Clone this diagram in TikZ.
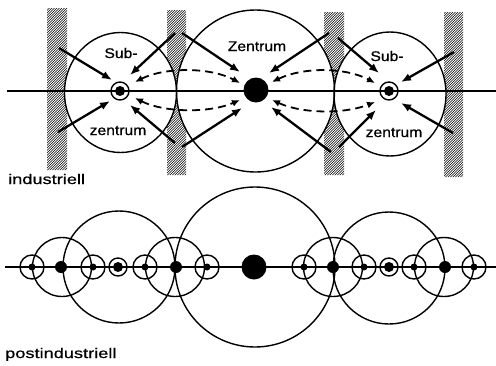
\documentclass[tikz,border=0pt]{standalone}
\usepackage{fontspec}
\setmainfont{Liberation Sans}
\newfontfamily\labA[FakeStretch=1.12,FakeBold=0.6]{Liberation Sans}
\newfontfamily\labB[FakeStretch=1.3,FakeBold=0.6]{Liberation Sans}
\usetikzlibrary{arrows.meta}
\tikzset{
  circ/.style={line width=1.4pt},
  axis/.style={line width=1.6pt},
  arr/.style={line width=2.3pt,-{Latex[length=10pt,width=8pt]}},
  darr/.style={line width=1.8pt,dash pattern=on 8pt off 5pt,{Latex[length=8pt,width=7pt]}-{Latex[length=8pt,width=7pt]}},
  hatchln/.style={line width=0.6pt},
  bigdot/.style={circle,fill=black,inner sep=0pt,minimum size=25pt},
  middot/.style={circle,fill=black,inner sep=0pt,minimum size=12pt},
  smdot/.style={circle,fill=black,inner sep=0pt,minimum size=7pt},
  ringc/.style={circle,draw,line width=1.4pt,inner sep=0pt,minimum size=18pt},
  ringdot/.style={circle,fill=black,inner sep=0pt,minimum size=10pt},
  smring/.style={circle,draw,line width=1.4pt,inner sep=0pt,minimum size=24pt},
  lbl/.style={anchor=base,inner sep=0pt,font=\labA\fontsize{14pt}{16pt}\selectfont},
  lblw/.style={anchor=base west,inner sep=0pt,font=\labB\fontsize{14pt}{16pt}\selectfont}
}
\begin{document}
\begin{tikzpicture}[x=1pt,y=-1pt]
\useasboundingbox (0,0) rectangle (496,365);
% ---------- top: hatched bars ----------
\begin{scope}
  \clip (47,8) rectangle (67,170) (167,10) rectangle (186,175)
        (324,12) rectangle (344,175) (444,12) rectangle (463,177);
  \foreach \k in {-200,-197.5,...,500} \draw[hatchln] (\k,180) -- (\k+180,0);
\end{scope}
% white interiors of the circles
\fill[white] (120.5,92.5) ellipse [x radius=56, y radius=60];
\fill[white] (255.5,91) ellipse [x radius=79, y radius=81];
\fill[white] (390,94) ellipse [x radius=56, y radius=62];
\draw[circ] (120.5,92.5) ellipse [x radius=56, y radius=60];
\draw[circ] (255.5,91) ellipse [x radius=79, y radius=81];
\draw[circ] (390,94) ellipse [x radius=56, y radius=62];
% axis
\coordinate (tl) at (7,91);
\coordinate (tr) at (496,91);
\draw[axis] (tl) -- (tr);
% centres
\node[bigdot] (Z) at (256,90) {};
\node[ringc] (S1) at (120,91) {};
\node[ringdot] (S1d) at (120,91) {};
\node[ringc] (S2) at (389,91) {};
\node[ringdot] (S2d) at (389,91) {};
% arrow end points
\coordinate (a1s) at (59,48);   \coordinate (a1e) at (112,80);
\coordinate (a2s) at (58,132);  \coordinate (a2e) at (110,101);
\coordinate (a3s) at (175,33);  \coordinate (a3e) at (130,75);
\coordinate (a4s) at (175,143); \coordinate (a4e) at (130,105);
\coordinate (b1s) at (182,33);  \coordinate (b1e) at (240,72);
\coordinate (b2s) at (182,147); \coordinate (b2e) at (242,108);
\coordinate (b3s) at (329,33);  \coordinate (b3e) at (269,73);
\coordinate (b4s) at (331,152); \coordinate (b4e) at (271,107);
\coordinate (c1s) at (338,38);  \coordinate (c1e) at (379,73);
\coordinate (c2s) at (339,147); \coordinate (c2e) at (376,110);
\coordinate (c3s) at (454,52);  \coordinate (c3e) at (401,82);
\coordinate (c4s) at (453,133); \coordinate (c4e) at (401,103);
\foreach \p in {a1,a2,a3,a4,b1,b2,b3,b4,c1,c2,c3,c4}
  \draw[arr] (\p s) -- (\p e);
% dashed exchange arrows
\coordinate (d1a) at (135,82);  \coordinate (d1b) at (240,83);
\coordinate (d2a) at (135,98);  \coordinate (d2b) at (240,100);
\coordinate (d3a) at (272,82);  \coordinate (d3b) at (375,83);
\coordinate (d4a) at (272,100); \coordinate (d4b) at (375,102);
\draw[darr] (d1a) .. controls (165,67) and (210,67) .. (d1b);
\draw[darr] (d2a) .. controls (165,113) and (210,113) .. (d2b);
\draw[darr] (d3a) .. controls (303,67) and (345,67) .. (d3b);
\draw[darr] (d4a) .. controls (303,114) and (345,114) .. (d4b);
% labels
\node[lbl] (l1) at (121,58) {Sub-};
\node[lbl] (l2) at (118,135) {zentrum};
\node[lbl] (l3) at (257,51) {Zentrum};
\node[lbl] (l4) at (387,61) {Sub-};
\node[lbl] (l5) at (394,137) {zentrum};
\node[lblw] (l6) at (8,184) {industriell};
% ---------- bottom ----------
\draw[circ] (255,267) circle [radius=80];
\draw[circ] (119,267) circle [radius=56];
\draw[circ] (389,268) circle [radius=56];
\foreach \x in {62,175,333,444} \draw[circ] (\x,267) circle [radius=29.5];
\coordinate (bl) at (5,267);
\coordinate (br) at (496,267);
\draw[axis] (bl) -- (br);
\node[bigdot] (Z2) at (254,267) {};
\foreach \x [count=\i] in {32,93,145,207,304,364,414,474} {
  \node[smring] (r\i) at (\x,267) {};
  \node[smdot] (s\i) at (\x,267) {};
}
\foreach \x [count=\i] in {61,176,333,445} \node[middot] (m\i) at (\x,267) {};
\node[ringc] (R1) at (118,267) {};
\node[ringdot] (R1d) at (118,267) {};
\node[ringc] (R2) at (389,267) {};
\node[ringdot] (R2d) at (389,267) {};
\node[lblw] (l7) at (5,358) {postindustriell};
\end{tikzpicture}
\end{document}
